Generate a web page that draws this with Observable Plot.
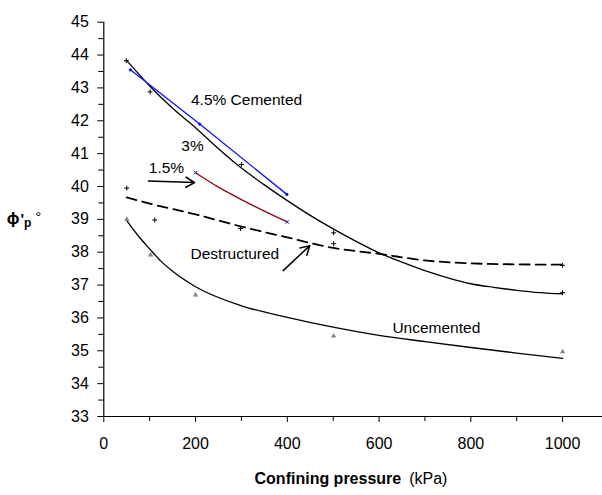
<!DOCTYPE html>
<html><head><meta charset="utf-8">
<script src="https://cdn.jsdelivr.net/npm/d3@7"></script>
<script src="https://cdn.jsdelivr.net/npm/@observablehq/plot@0.6"></script>
<style>body{margin:0;background:#fff} #chart svg{display:block}</style>
</head><body><div id="chart"></div>
<script>
// ---- data ----
const cem3CurveX = [50,100,150,200,250,300,350,400,450,500,550,600,650,700,750,800,850,900,950,1000];
const cem3CurveY = [43.83,43.06,42.38,41.79,41.15,40.56,40.05,39.57,39.12,38.71,38.33,37.98,37.70,37.44,37.22,37.04,36.93,36.84,36.77,36.73];
const cem3PtsX = [49,101,300,501,1000];
const cem3PtsY = [43.83,42.88,40.67,38.59,36.77];

const cem45X = [58,209,399];
const cem45Y = [43.55,41.9,39.76];

const cem15X = [200,250,300,350,400];
const cem15Y = [40.42,39.98,39.6,39.25,38.92];

const destCurveX = [50,100,200,300,400,500,600,700,800,900,1000];
const destCurveY = [39.67,39.48,39.15,38.78,38.45,38.13,37.95,37.75,37.66,37.63,37.62];
const destPtsX = [50,111,298,501,1000];
const destPtsY = [39.95,38.98,38.72,38.26,37.6];

const uncCurveX = [50,75,100,125,150,200,300,400,500,600,700,800,900,1000];
const uncCurveY = [38.96,38.5,38.1,37.72,37.42,36.95,36.37,36.02,35.72,35.47,35.28,35.1,34.93,34.77];
const uncPtsX = [50,102,200,501,1000];
const uncPtsY = [39.0,37.92,36.7,35.45,34.97];

const annoText = ["4.5% Cemented","3%","1.5%","Destructured","Uncemented"];
const annoX = [190,169,98,189,629];
const annoY = [42.62,41.23,40.56,37.93,35.7];

const arrowX1 = [97,391], arrowY1 = [40.17,37.44];
const arrowX2 = [198,449], arrowY2 = [40.12,38.2];

const yTicks = d3.range(33,46,1);
const yMinor = d3.range(33.5,45,1);
const xTicks = d3.range(0,1001,200);
const xMinor = d3.range(100,1001,200);

const zip = (xs, ys) => xs.map((x,i)=>({x, y: ys[i]}));
const cem3Curve = zip(cem3CurveX, cem3CurveY);
const cem3Pts = zip(cem3PtsX, cem3PtsY);
const cem45 = zip(cem45X, cem45Y);
const cem15 = zip(cem15X, cem15Y);
const cem15Ends = [cem15[0], cem15[cem15.length-1]];
const destCurve = zip(destCurveX, destCurveY);
const destPts = zip(destPtsX, destPtsY);
const uncCurve = zip(uncCurveX, uncCurveY);
const uncPts = zip(uncPtsX, uncPtsY);
const annos = annoText.map((t,i)=>({t, x: annoX[i], y: annoY[i]}));
const arrows = arrowX1.map((x1,i)=>({x1, y1: arrowY1[i], x2: arrowX2[i], y2: arrowY2[i]}));

const font = "Liberation Sans, Arial, Helvetica, sans-serif";

const plot = Plot.plot({
  width: 602, height: 495,
  marginLeft: 103.3, marginRight: 0, marginTop: 21.7, marginBottom: 79,
  style: {fontFamily: font, fontSize: "16px", background: "#fff", color: "#000"},
  x: {domain: [0, 1087], label: null},
  y: {domain: [33, 45], label: null},
  marks: [
    Plot.ruleX([0], {stroke: "#000", strokeWidth: 1.2}),
    Plot.ruleY([33], {stroke: "#000", strokeWidth: 1.2}),
    Plot.axisY({ticks: yTicks, tickSize: 6, tickPadding: 9, fontSize: 16, tickFormat: d => String(d), label: null}),
    Plot.axisY({ticks: yMinor, tickSize: 5, text: null, label: null}),
    Plot.axisX({ticks: xTicks, tickSize: 6, tickPadding: 15, fontSize: 16, tickFormat: d => String(d), label: null}),
    Plot.axisX({ticks: xMinor, tickSize: 5, text: null, label: null}),
    Plot.line(uncCurve, {x: "x", y: "y", curve: "monotone-x", stroke: "#000", strokeWidth: 1.3}),
    Plot.line(destCurve, {x: "x", y: "y", curve: "monotone-x", stroke: "#000", strokeWidth: 1.8, strokeDasharray: "10,6"}),
    Plot.line(cem3Curve, {x: "x", y: "y", curve: "monotone-x", stroke: "#000", strokeWidth: 1.3}),
    Plot.line(cem45, {x: "x", y: "y", stroke: "#1010ff", strokeWidth: 1.3}),
    Plot.line(cem15, {x: "x", y: "y", curve: "monotone-x", stroke: "#8b0a0a", strokeWidth: 1.3}),
    Plot.dot(uncPts, {x: "x", y: "y", symbol: "triangle", r: 2, fill: "#888", stroke: "none"}),
    Plot.dot(destPts, {x: "x", y: "y", symbol: "plus", r: 1.7, stroke: "#000", strokeWidth: 1}),
    Plot.dot(cem3Pts, {x: "x", y: "y", symbol: "plus", r: 1.7, stroke: "#000", strokeWidth: 1}),
    Plot.dot(cem45, {x: "x", y: "y", r: 1.6, fill: "#1010ff", stroke: "none"}),
    Plot.dot(cem15Ends, {x: "x", y: "y", symbol: "times", r: 1.8, stroke: "#2020c0", strokeWidth: 1}),
    Plot.text(annos, {x: "x", y: "y", text: "t", textAnchor: "start", fontSize: 15.5, fill: "#000"}),
    Plot.arrow(arrows, {x1: "x1", y1: "y1", x2: "x2", y2: "y2", stroke: "#000", strokeWidth: 1.5, headLength: 10, bend: 0})
  ]
});

const svg = d3.select(plot);
const ys = plot.scale("y");
const yMid = ys.apply(39);
// y axis label: phi'_p degrees
const yl = svg.append("text")
  .attr("x", 24).attr("y", yMid + 5)
  .attr("font-family", font).attr("fill", "#000");
yl.append("tspan").attr("font-weight", "bold").attr("font-size", 17).text("ϕ");
yl.append("tspan").attr("font-weight", "bold").attr("font-size", 15).attr("dx", 1).text("'");
yl.append("tspan").attr("font-weight", "bold").attr("font-size", 12).attr("dy", 3).text("p");
yl.append("tspan").attr("font-size", 15).attr("dx", 4).attr("dy", -5).text("°");

// x axis title
const xl = svg.append("text")
  .attr("x", 351).attr("y", 484).attr("text-anchor", "middle")
  .attr("font-family", font).attr("font-size", 16).attr("fill", "#000");
xl.append("tspan").attr("font-weight", "bold").text("Confining pressure");
xl.append("tspan").attr("dx", 8).text("(kPa)");

document.getElementById("chart").appendChild(plot);
</script>
</body></html>
